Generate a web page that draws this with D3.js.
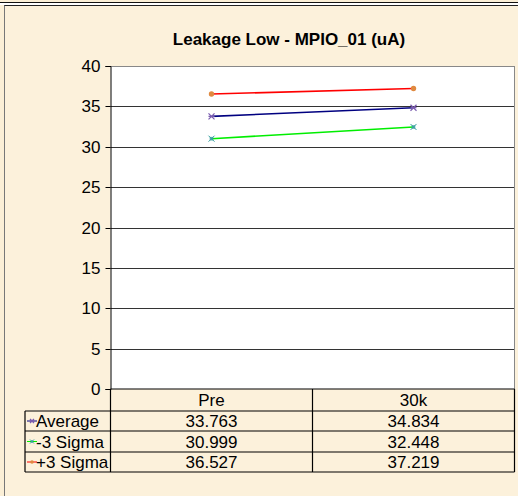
<!DOCTYPE html>
<html>
<head>
<meta charset="utf-8">
<script src="https://cdn.jsdelivr.net/npm/d3@7"></script>
<style>
  body { margin: 0; background: #fff; }
  text { font-family: "Liberation Sans", Arial, sans-serif; fill: #000; }
</style>
</head>
<body>
<div id="chart"></div>
<script>
const categories = ["Pre", "30k"];
const seriesNames = ["Average", "-3 Sigma", "+3 Sigma"];
const average = [33.763, 34.834];
const minus3 = [30.999, 32.448];
const plus3 = [36.527, 37.219];
const yTicks = [0, 5, 10, 15, 20, 25, 30, 35, 40];
const title = "Leakage Low - MPIO_01 (uA)";

const series = [
    { name: seriesNames[0], values: average, line: "#000080", mark: "#7a5cb0", shape: "star" },
    { name: seriesNames[1], values: minus3, line: "#00ee00", mark: "#3aa0a0", shape: "box" },
    { name: seriesNames[2], values: plus3, line: "#ff0000", mark: "#e08a40", shape: "dot" }
];

const width = 518, height = 496;
const plot = { left: 110.5, right: 514.5, top: 66, bottom: 389 };
const rowH = [389, 411, 431, 452, 472];
const tableLeft = 25;
const fs = 17;

const svg = d3.select("#chart").append("svg")
    .attr("width", width)
    .attr("height", height);

// background & frame
svg.append("rect").attr("width", width).attr("height", height).attr("fill", "#fbefd6");
svg.append("line").attr("x1", 0).attr("x2", width).attr("y1", 2.5).attr("y2", 2.5)
    .attr("stroke", "#111").attr("stroke-width", 1);
svg.append("rect").attr("x", 0).attr("y", 3).attr("width", width).attr("height", 2).attr("fill", "#fff");
svg.append("rect").attr("x", 4.5).attr("y", 5.5).attr("width", 520).attr("height", 500)
    .attr("fill", "#fcf1db").attr("stroke", "#777").attr("stroke-width", 1);
svg.append("line").attr("x1", 4.5).attr("x2", width).attr("y1", 5.5).attr("y2", 5.5)
    .attr("stroke", "#222");

const x = d3.scaleBand().domain(categories).range([plot.left, plot.right]);
const y = d3.scaleLinear().domain([0, 40]).range([plot.bottom, plot.top]);

svg.append("rect")
    .attr("x", plot.left).attr("y", plot.top)
    .attr("width", plot.right - plot.left).attr("height", plot.bottom - plot.top)
    .attr("fill", "#fff");

// gridlines
svg.append("g").selectAll("line").data(yTicks.slice(1)).join("line")
    .attr("x1", plot.left).attr("x2", plot.right)
    .attr("y1", d => Math.round(y(d)) + 0.5).attr("y2", d => Math.round(y(d)) + 0.5)
    .attr("stroke", d => d === 40 ? "#888" : "#333").attr("stroke-width", 1);
svg.append("line").attr("x1", plot.right).attr("x2", plot.right)
    .attr("y1", plot.top).attr("y2", plot.bottom).attr("stroke", "#888");

// y axis
const yAxis = svg.append("g")
    .attr("transform", `translate(${plot.left},0)`)
    .call(d3.axisLeft(y).tickValues(yTicks).tickSize(5).tickPadding(5));
yAxis.select(".domain").attr("stroke", "#000");
yAxis.selectAll(".tick line").attr("stroke", "#000");
yAxis.selectAll(".tick text").attr("font-size", fs).attr("dy", "0.33em")
    .style("font-family", "'Liberation Sans', Arial, sans-serif");
yAxis.selectAll(".tick").attr("transform", d => `translate(0,${Math.round(y(d)) + 0.5})`);

// title
svg.append("text").attr("x", 289).attr("y", 45).attr("text-anchor", "middle")
    .attr("font-size", 17).attr("font-weight", "bold").text(title);

// marker drawer
function marker(g, shape, color, cx, cy, s) {
    if (shape === "dot") {
        g.append("circle").attr("cx", cx).attr("cy", cy).attr("r", s * 0.9).attr("fill", color);
    } else if (shape === "box") {
        g.append("rect").attr("x", cx - s * 0.6).attr("y", cy - s * 0.6)
            .attr("width", s * 1.2).attr("height", s * 1.2).attr("fill", color).attr("opacity", 0.85);
        g.append("path").attr("d", `M${cx - s},${cy - s}L${cx + s},${cy + s}M${cx - s},${cy + s}L${cx + s},${cy - s}`)
            .attr("stroke", color).attr("stroke-width", 1);
    } else {
        g.append("path").attr("d", `M${cx - s},${cy - s}L${cx + s},${cy + s}M${cx - s},${cy + s}L${cx + s},${cy - s}M${cx - s},${cy}L${cx + s},${cy}`)
            .attr("stroke", color).attr("stroke-width", 1.2);
    }
}

// series lines
const line = d3.line()
    .x((d, i) => x(categories[i]) + x.bandwidth() / 2)
    .y(d => y(d));

series.forEach(s => {
    const g = svg.append("g");
    g.append("path").datum(s.values).attr("d", line)
        .attr("fill", "none").attr("stroke", s.line).attr("stroke-width", 1.6);
    s.values.forEach((v, i) => {
        marker(g, s.shape, s.mark, x(categories[i]) + x.bandwidth() / 2, y(v), 3);
    });
});

// data table
const tbl = svg.append("g").attr("stroke", "#000").attr("stroke-width", 1.2);
tbl.append("line").attr("x1", plot.left).attr("x2", plot.right).attr("y1", rowH[0]).attr("y2", rowH[0]);
rowH.slice(1).forEach(r => {
    tbl.append("line").attr("x1", tableLeft).attr("x2", plot.right).attr("y1", r).attr("y2", r);
});
tbl.append("line").attr("x1", tableLeft).attr("x2", tableLeft).attr("y1", rowH[1]).attr("y2", rowH[4]);
categories.forEach(c => {
    tbl.append("line").attr("x1", x(c)).attr("x2", x(c)).attr("y1", rowH[0]).attr("y2", rowH[4]);
});
tbl.append("line").attr("x1", plot.right).attr("x2", plot.right).attr("y1", rowH[0]).attr("y2", rowH[4]);

categories.forEach(c => {
    svg.append("text").attr("x", x(c) + x.bandwidth() / 2).attr("y", rowH[0] + 17)
        .attr("text-anchor", "middle").attr("font-size", fs).text(c);
});

series.forEach((s, r) => {
    const top = rowH[r + 1], bot = rowH[r + 2];
    const cy = (top + bot) / 2;
    const kg = svg.append("g");
    kg.append("line").attr("x1", tableLeft + 2).attr("x2", tableLeft + 12)
        .attr("y1", cy).attr("y2", cy).attr("stroke", s.line).attr("stroke-width", 1);
    marker(kg, s.shape, s.mark, tableLeft + 7, cy, 2);
    svg.append("text").attr("x", tableLeft + 11).attr("y", cy + 6)
        .attr("font-size", fs).text(s.name);
    s.values.forEach((v, i) => {
        svg.append("text").attr("x", x(categories[i]) + x.bandwidth() / 2).attr("y", cy + 6)
            .attr("text-anchor", "middle").attr("font-size", fs).text(d3.format(".3f")(v));
    });
});
</script>
</body>
</html>
